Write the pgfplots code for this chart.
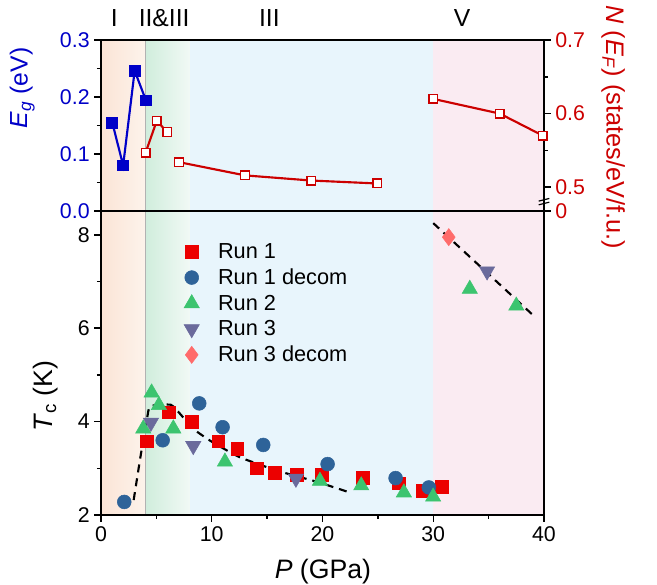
\documentclass[border=0pt]{standalone}
\usepackage{fontspec}
\setmainfont{Liberation Sans}
\usepackage{pgfplots}
\pgfplotsset{compat=1.18}

\definecolor{eblue}{RGB}{0,0,200}
\definecolor{nred}{RGB}{204,0,0}
\definecolor{r1}{RGB}{236,0,0}
\definecolor{r1d}{RGB}{46,99,153}
\definecolor{r2}{RGB}{60,196,111}
\definecolor{r3}{RGB}{106,106,156}
\definecolor{r3d}{RGB}{255,107,107}
\definecolor{bgorA}{RGB}{251,228,214}
\definecolor{bgorB}{RGB}{253,243,235}
\definecolor{bggrA}{RGB}{208,237,220}
\definecolor{bggrB}{RGB}{241,249,245}
\definecolor{bgbl}{RGB}{232,245,252}
\definecolor{bgpk}{RGB}{250,235,242}

\pgfplotsset{
  every axis/.append style={
    scale only axis, width=332.25pt,
    xmin=0, xmax=40,
    axis line style={line width=1.1pt},
    every tick/.style={line width=1.1pt, black},
    major tick length=5pt, minor tick length=3pt,
    tick align=outside,
    tick label style={font=\fontsize{16}{19}\selectfont},
    /pgf/number format/assume math mode=true,
    clip=false,
  },
}

\newcommand{\bgshade}[2]{%
  \shade[left color=bgorA, right color=bgorB] (axis cs:0,#1) rectangle (axis cs:4,#2);
  \shade[left color=bggrA, right color=bggrB] (axis cs:4,#1) rectangle (axis cs:8,#2);
  \fill[bgbl] (axis cs:8,#1) rectangle (axis cs:30,#2);
  \fill[bgpk] (axis cs:30,#1) rectangle (axis cs:40,#2);
  \draw[gray!60, line width=0.8pt] (axis cs:4,#1) -- (axis cs:4,#2);
}

\begin{document}
\begin{tikzpicture}
\path[use as bounding box] (-75.75pt,-52.5pt) rectangle (417pt,386.25pt);

% top panel, left axis: band gap
\begin{axis}[
  at={(0pt,228pt)}, anchor=south west, height=128.25pt,
  ymin=0, ymax=0.3,
  ytick={0,0.1,0.2,0.3}, minor ytick={0.05,0.15,0.25},
  yticklabel style={color=eblue, /pgf/number format/fixed,
    /pgf/number format/fixed zerofill, /pgf/number format/precision=1},
  xtick={0,10,20,30,40}, minor xtick={5,15,25,35}, xticklabels={},
  xtick pos=left, ytick pos=left,
  axis on top,
]
\bgshade{0}{0.3}
\addplot[eblue, line width=1.6pt, mark=square*, mark size=3.6pt,
  mark options={solid, fill=eblue}] coordinates {
  (1.02,0.155) (2.0,0.080) (3.04,0.246) (4.06,0.194)
};
\node[eblue, rotate=90, font=\fontsize{18.5}{22}\selectfont]
  at (rel axis cs:-0.178,0.72) {\textit{E}\textsubscript{\textit{g}} (eV)};
\node[font=\fontsize{18.5}{22}\selectfont] at (axis cs:1.2,0.3) [yshift=16.5pt] {I};
\node[font=\fontsize{18.5}{22}\selectfont] at (axis cs:5.7,0.3) [yshift=16.5pt] {II\&III};
\node[font=\fontsize{18.5}{22}\selectfont] at (axis cs:15.2,0.3) [yshift=16.5pt] {III};
\node[font=\fontsize{18.5}{22}\selectfont] at (axis cs:32.6,0.3) [yshift=16.5pt] {V};
\end{axis}

% top panel, right axis: density of states (broken axis)
\begin{axis}[
  at={(0pt,228pt)}, anchor=south west, height=128.25pt,
  axis x line=none, axis y line*=right,
  ymin=0.4676, ymax=0.7,
  ytick={0.4676,0.5,0.6,0.7}, yticklabels={0,0.5,0.6,0.7},
  minor ytick={0.55,0.65},
  yticklabel style={color=nred},
  ytick pos=right,
]
\addplot[nred, line width=1.6pt, mark=square*, mark size=3.2pt,
  mark options={solid, fill=white, line width=1.1pt}] coordinates {
  (4.03,0.547) (5.03,0.590) (5.98,0.575)
};
\addplot[nred, line width=1.6pt, mark=square*, mark size=3.2pt,
  mark options={solid, fill=white, line width=1.1pt}] coordinates {
  (7.04,0.534) (13.0,0.516) (18.98,0.509) (24.94,0.505)
};
\addplot[nred, line width=1.6pt, mark=square*, mark size=3.2pt,
  mark options={solid, fill=white, line width=1.1pt}] coordinates {
  (29.99,0.620) (36.0,0.600) (39.9,0.570)
};
\draw[line width=0.9pt] ([xshift=-4pt,yshift=-2.5pt]axis cs:40,0.4805) -- ([xshift=4pt,yshift=-0.5pt]axis cs:40,0.4805);
\draw[line width=0.9pt] ([xshift=-4pt,yshift=0.3pt]axis cs:40,0.4805) -- ([xshift=4pt,yshift=2.3pt]axis cs:40,0.4805);
\node[nred, rotate=-90, font=\fontsize{19}{22}\selectfont]
  at (rel axis cs:1.156,0.49) {\textit{N} (\textit{E}\textsubscript{\textit{F}}) (states/eV/f.u.)};
\end{axis}

% bottom panel: Tc
\begin{axis}[
  at={(0pt,0pt)}, anchor=south west, height=228pt,
  ymin=2, ymax=8.51,
  ytick={2,4,6,8}, minor ytick={3,5,7},
  xtick={0,10,20,30,40}, minor xtick={5,15,25,35},
  xtick pos=left, ytick pos=left,
  axis on top,
  legend cell align=left,
  legend style={at={(rel axis cs:0.178,0.912)}, anchor=north west,
    draw=none, fill=none, font=\fontsize{16.3}{19}\selectfont,
    row sep=2.3pt,
    /tikz/every odd column/.append style={column sep=12pt}},
  legend image code/.code={\draw[mark repeat=2,mark phase=2] plot coordinates {(0cm,0cm) (0.3cm,0cm) (0.6cm,0cm)};},
]
\bgshade{2}{8.51}
\addplot[only marks, mark=square*, mark size=4.8pt, color=r1] coordinates {
  (4.12,3.58) (6.14,4.20) (8.18,4.00) (10.59,3.58) (12.3,3.41) (14.1,3.00)
  (15.7,2.91) (17.66,2.87) (19.97,2.87) (23.67,2.79) (26.9,2.68) (29.0,2.52) (30.75,2.61)
};
\addlegendentry{Run 1}
\addplot[only marks, mark=*, mark size=5.2pt, color=r1d] coordinates {
  (2.1,2.28) (5.57,3.60) (8.87,4.39) (10.98,3.88) (14.65,3.50) (20.46,3.09) (26.6,2.79) (29.6,2.59)
};
\addlegendentry{Run 1 decom}
\addplot[only marks, mark=triangle*, mark size=6.6pt, color=r2] coordinates {
  (3.82,3.85) (4.57,4.62) (5.23,4.35) (6.53,3.85) (11.19,3.14) (19.77,2.73)
  (23.5,2.63) (27.35,2.48) (29.99,2.39) (33.3,6.84) (37.5,6.48)
};
\addlegendentry{Run 2}
\addplot[only marks, mark=triangle*, mark size=6.6pt, color=r3, mark options={rotate=180}] coordinates {
  (4.51,3.98) (8.33,3.48) (17.6,2.78) (34.86,7.22)
};
\addlegendentry{Run 3}
\addplot[only marks, mark=diamond*, mark size=6.4pt, color=r3d] coordinates {
  (31.4,7.95)
};
\addlegendentry{Run 3 decom}
\addplot[black, line width=1.6pt, dash pattern=on 6pt off 4.5pt, smooth, tension=0.3, forget plot] coordinates {
  (2.95,2.32) (3.6,3.3) (4.15,4.05) (4.45,4.33) (6.3,4.36) (7.2,4.15) (8.3,3.85)
  (10,3.57) (12.5,3.24) (15.9,2.95) (19.5,2.71) (22.5,2.48)
};
\addplot[black, line width=1.6pt, dash pattern=on 6pt off 4.5pt, forget plot] coordinates {
  (30.0,8.25) (39.1,6.26)
};
\node[rotate=90, font=\fontsize{20}{24}\selectfont]
  at (rel axis cs:-0.126,0.39) {\textit{T}\textsubscript{c} (K)};
\node[font=\fontsize{20}{24}\selectfont]
  at (rel axis cs:0.501,-0.1875) {\textit{P} (GPa)};
\end{axis}
\end{tikzpicture}
\end{document}
